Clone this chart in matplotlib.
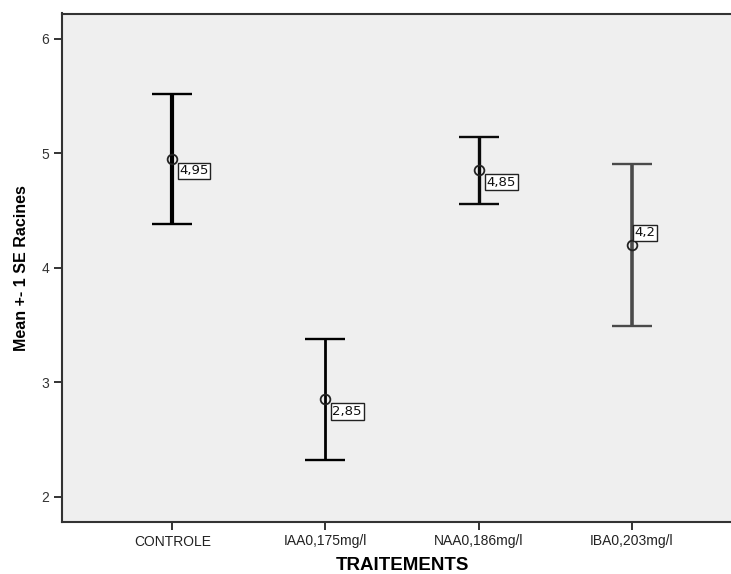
import matplotlib
matplotlib.use("Agg")
import matplotlib.pyplot as plt
import numpy as np

plt.rcParams['font.family'] = ['Liberation Sans', 'DejaVu Sans']

# Treatment groups and root counts (mean +/- 1 SE)
treatments = ["CONTROLE", "IAA0,175mg/l", "NAA0,186mg/l", "IBA0,203mg/l"]
means = [4.95, 2.85, 4.85, 4.2]
upper = [5.52, 3.375, 5.14, 4.905]
lower = [4.38, 2.325, 4.56, 3.495]
mean_labels = ["4,95", "2,85", "4,85", "4,2"]

# per-bar drawing styles
bar_widths = [3.0, 2.0, 2.4, 2.6]
bar_colors = ["#000000", "#000000", "#0a0a0a", "#4a4a4a"]
label_offsets = [(7, -12), (7, -12), (8, -12), (3, 12)]

fig = plt.figure(figsize=(7.31, 5.74), dpi=100)
ax = fig.add_axes([62 / 731, 52 / 574, 680 / 731, 508.5 / 574])
ax.set_facecolor("#efefef")

x = np.arange(len(treatments))
for i in range(len(treatments)):
    ax.errorbar(x[i], means[i],
                yerr=[[means[i] - lower[i]], [upper[i] - means[i]]],
                fmt="none", ecolor=bar_colors[i], elinewidth=bar_widths[i],
                capsize=14.5, capthick=1.7, zorder=2)
    ax.plot(x[i], means[i], marker="o", markersize=7, markerfacecolor="none",
            markeredgecolor="#222222", markeredgewidth=1.3, linestyle="none",
            zorder=3)
    dx, dy = label_offsets[i]
    ax.annotate(mean_labels[i], (x[i], means[i]), xytext=(dx, dy),
                textcoords="offset pixels", ha="left", va="center",
                fontsize=9.5, family="DejaVu Sans", color="#111111",
                bbox=dict(boxstyle="square,pad=0.12", facecolor="white",
                          edgecolor="#222222", linewidth=1.0),
                zorder=4)

ax.set_xlim(-0.72, 3.72)
ax.set_ylim(1.78, 6.22)
ax.set_xticks(x)
ax.set_xticklabels(treatments, fontsize=10, color="#222222")
ax.set_yticks([2, 3, 4, 5, 6])
ax.set_yticklabels(["2", "3", "4", "5", "6"], fontsize=10, color="#333333")
ax.tick_params(axis="both", direction="out", length=6, width=1.4,
               color="#333333", pad=3)

for side in ["left", "bottom", "top", "right"]:
    ax.spines[side].set_color("#333333")
    ax.spines[side].set_linewidth(1.5)

ax.set_xlabel("TRAITEMENTS", fontsize=13.5, fontweight="bold", labelpad=6)
ax.set_ylabel("Mean +- 1 SE Racines", fontsize=11.5, fontweight="bold",
              labelpad=9)

fig.savefig("out.png", dpi=100, facecolor="white")
